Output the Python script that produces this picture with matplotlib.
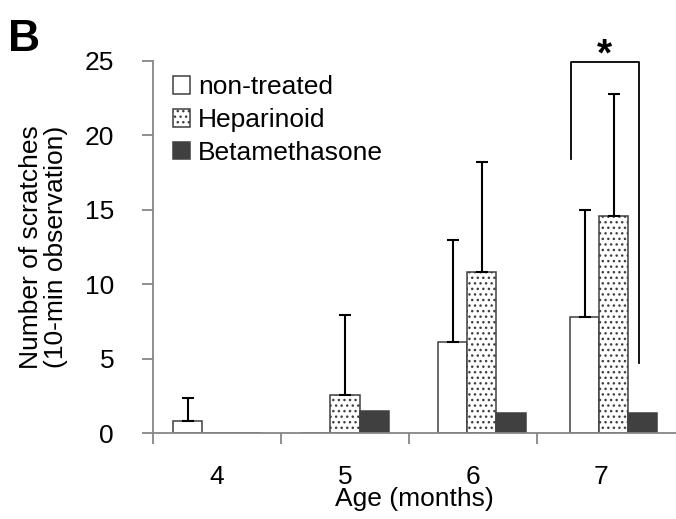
import numpy as np
import matplotlib
matplotlib.use('Agg')
import matplotlib.pyplot as plt

plt.rcParams['font.family'] = ['Liberation Sans', 'DejaVu Sans']
plt.rcParams['hatch.linewidth'] = 1.0
plt.rcParams['hatch.color'] = 'black'

ages = ['4', '5', '6', '7']
groups = ['non-treated', 'Heparinoid', 'Betamethasone']
means = {
    'non-treated': [0.8, 0.0, 6.1, 7.8],
    'Heparinoid': [0.0, 2.55, 10.8, 14.6],
    'Betamethasone': [0.0, 1.48, 1.32, 1.32],
}
errs = {
    'non-treated': [1.55, 0.0, 6.9, 7.2],
    'Heparinoid': [0.0, 5.35, 7.4, 8.2],
    'Betamethasone': [0.0, 0.0, 0.0, 0.0],
}

fs = 19
fig = plt.figure(figsize=(6.76, 5.19), dpi=100)
ax = fig.add_axes([0.2263, 0.1657, 0.7737, 0.7168])

gray = '#868686'
styles = {
    'non-treated': dict(color='white', hatch=None),
    'Heparinoid': dict(color='white', hatch='...'),
    'Betamethasone': dict(color='#404040', hatch=None),
}
w = 0.227
x = np.arange(len(ages)) + np.array([0, 0, 0.07, 0.1])  # groups in the original are slightly shifted
for i, g in enumerate(groups):
    xs = x + (i - 1) * w
    ax.bar(xs, means[g], w, color=styles[g]['color'], hatch=styles[g]['hatch'],
           edgecolor='#404040', linewidth=1.1, label=g, zorder=2)
    e = np.array(errs[g])
    m = e > 0
    ax.errorbar(xs[m], np.array(means[g])[m], yerr=[np.zeros(m.sum()), e[m]],
                fmt='none', ecolor='black', elinewidth=1.5, capsize=4.5, capthick=1.5, zorder=3)

ax.set_ylim(0, 25)
ax.set_xlim(-0.5, 3.586)
ax.set_yticks([0, 5, 10, 15, 20, 25])
ax.set_xticks([-0.5, 0.5, 1.5, 2.5])
ax.set_xticklabels([])
ax.set_xticks([0, 1, 2, 3], minor=True)
ax.set_xticklabels(ages, minor=True)
ax.tick_params(axis='x', which='major', direction='out', length=8, width=1.3, color=gray)
ax.tick_params(axis='x', which='minor', length=0, pad=23, labelsize=fs)
ax.tick_params(axis='y', direction='out', length=8, width=1.3, color=gray, pad=20, labelsize=fs)
for s in ['top', 'right']:
    ax.spines[s].set_visible(False)
for s in ['left', 'bottom']:
    ax.spines[s].set_color(gray)
    ax.spines[s].set_linewidth(1.3)

ax.set_xlabel('Age (months)', fontsize=fs, labelpad=-1.5)
ax.set_ylabel('Number of scratches\n(10-min observation)', fontsize=fs, labelpad=12, linespacing=1.05)

# significance bracket
bx0, bx1 = 2.763, 3.297
ax.plot([bx0, bx0, bx1, bx1], [18.4, 24.95, 24.95, 4.7], color='black', lw=1.3, clip_on=False)
ax.text((bx0 + bx1) / 2, 25.35, '*', ha='center', va='center', fontsize=28, fontweight='bold')

ax.legend(loc='upper left', bbox_to_anchor=(0.256, 0.855), bbox_transform=fig.transFigure,
          frameon=False, fontsize=fs, borderpad=0, borderaxespad=0, handlelength=0.65,
          handleheight=0.65, handletextpad=0.3, labelspacing=0.33)

fig.text(0.012, 0.963, 'B', fontsize=32, fontweight='bold', va='top', ha='left')

fig.savefig('out.png', dpi=100)
